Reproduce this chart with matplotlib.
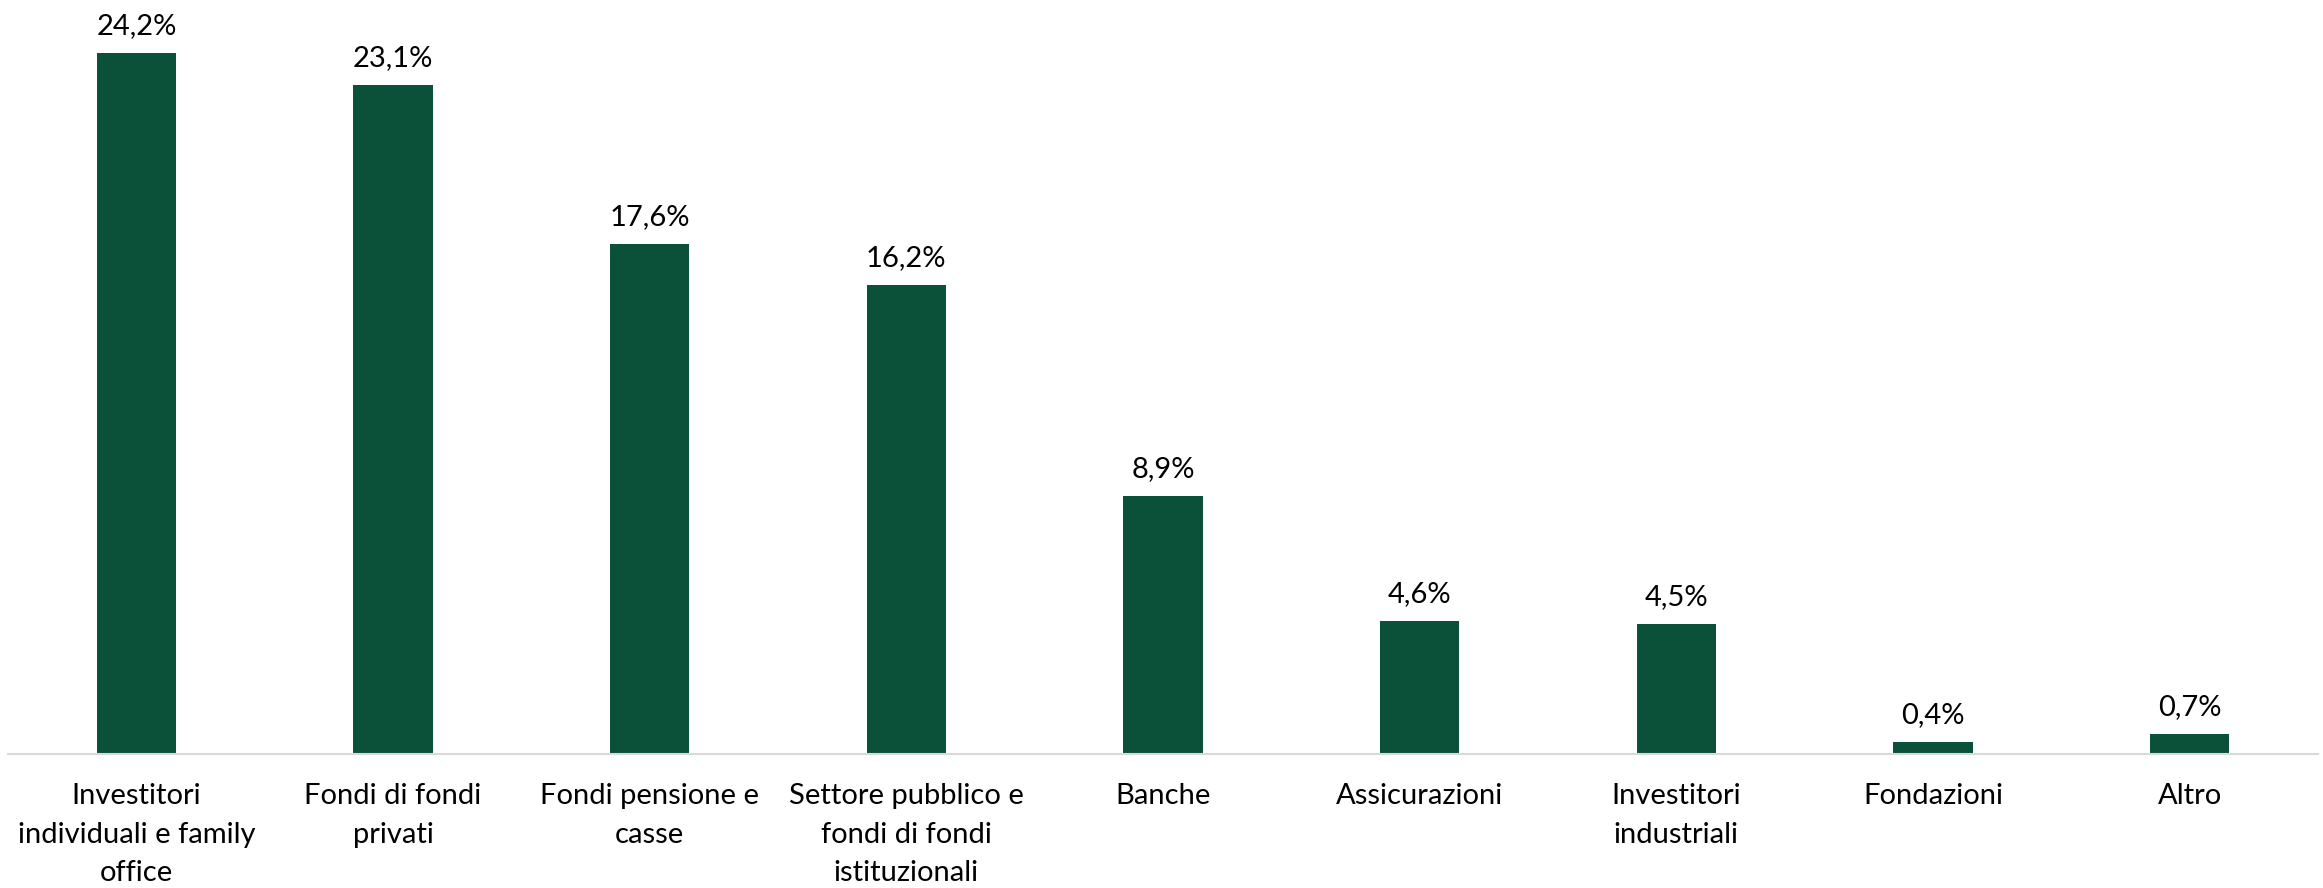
import matplotlib
matplotlib.use("Agg")
import matplotlib.pyplot as plt

categories = ["Investitori\nindividuali e family\noffice", "Fondi di fondi\nprivati",
              "Fondi pensione e\ncasse", "Settore pubblico e\nfondi di fondi\nistituzionali",
              "Banche", "Assicurazioni", "Investitori\nindustriali", "Fondazioni", "Altro"]
values = [24.2, 23.1, 17.6, 16.2, 8.9, 4.6, 4.5, 0.4, 0.7]
value_labels = ["24,2%", "23,1%", "17,6%", "16,2%", "8,9%", "4,6%", "4,5%", "0,4%", "0,7%"]

plt.rcParams['font.family'] = ['Lato', 'DejaVu Sans']

W, H = 2323, 888
fig = plt.figure(figsize=(W / 100, H / 100), dpi=100)
ax = fig.add_axes([8 / W, (H - 754) / H, 2310 / W, 753 / H])

x = list(range(len(values)))
ax.bar(x, values, width=0.31, color="#0b513a")
ax.set_xlim(-0.5, len(values) - 0.5)
ax.set_ylim(0, 26)

for xi, v, lab in zip(x, values, value_labels):
    ax.annotate(lab, (xi, v), xytext=(0, 10), textcoords="offset points",
                ha="center", va="bottom", fontsize=21, color="#000000")

ax.set_xticks(x)
ax.set_xticklabels(categories, fontsize=21, linespacing=1.6, va="top")
ax.tick_params(axis="x", length=0, pad=21)
ax.set_yticks([])
for s in ["top", "right", "left"]:
    ax.spines[s].set_visible(False)
ax.spines["bottom"].set_color("#d9d9d9")
ax.spines["bottom"].set_linewidth(1.5)

fig.savefig("out.png", dpi=100, facecolor="white")
